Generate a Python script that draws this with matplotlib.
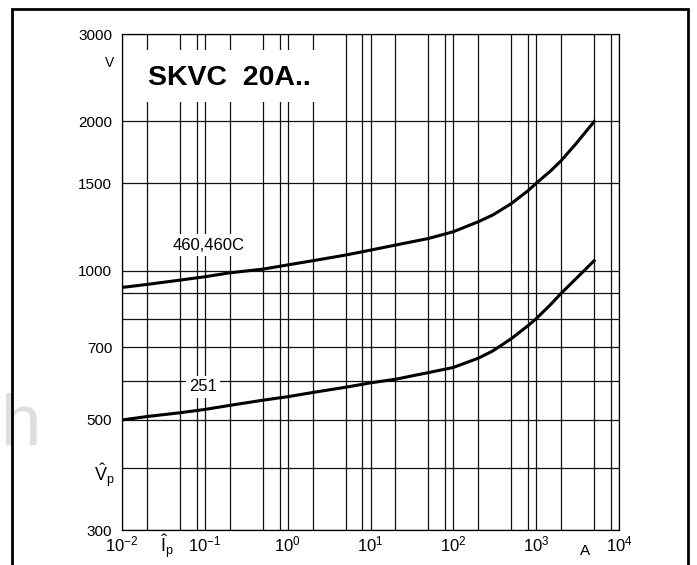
import matplotlib
matplotlib.use('Agg')
import matplotlib.pyplot as plt
from matplotlib.patches import Rectangle
from matplotlib.ticker import NullFormatter

plt.rcParams['font.family'] = ['Liberation Sans', 'DejaVu Sans']
plt.rcParams['mathtext.fontset'] = 'custom'
plt.rcParams['mathtext.rm'] = 'Liberation Sans'
plt.rcParams['mathtext.it'] = 'Liberation Sans:italic'
plt.rcParams['mathtext.bf'] = 'Liberation Sans:bold'

# peak current (A) vs peak voltage (V)
i_460 = [0.01, 0.02, 0.05, 0.1, 0.2, 0.5, 1, 2, 5, 10, 20, 50, 100, 200, 300, 500,
         800, 1000, 1500, 2000, 3000, 5000]
v_460 = [925, 938, 957, 972, 990, 1007, 1027, 1047, 1075, 1100, 1126, 1161, 1198, 1255,
         1295, 1365, 1450, 1500, 1590, 1666, 1800, 1997]
i_251 = [0.01, 0.02, 0.05, 0.1, 0.2, 0.5, 1, 2, 5, 10, 20, 50, 100, 200, 300, 500,
         800, 1000, 1500, 2000, 3000, 5000]
v_251 = [500, 508, 517, 525, 535, 548, 557, 568, 582, 594, 604, 623, 638, 666, 689, 729,
         775, 800, 855, 900, 962, 1047]

y_ticks = [300, 500, 700, 1000, 1500, 2000, 3000]
y_grid = [400, 600, 800, 900]
x_decades = [-2, -1, 0, 1, 2, 3, 4]
x_steps = [2, 5, 8]

W, H = 697, 565


def fx(px):
    return px / W


def fy(py):
    return 1 - py / H


fig = plt.figure(figsize=(W / 100, H / 100), dpi=100)
ax = fig.add_axes([fx(122), fy(530), (619 - 122) / W, (530 - 34) / H])

ax.set_xscale('log')
ax.set_yscale('log')
ax.set_xlim(1e-2, 1e4)
ax.set_ylim(300, 3000)

ax.set_xticks([10.0 ** d for d in x_decades])
ax.set_xticklabels([r'$\mathregular{10^{%d}}$' % d for d in x_decades])
ax.set_xticks([s * 10.0 ** d for d in x_decades[:-1] for s in x_steps], minor=True)
ax.xaxis.set_minor_formatter(NullFormatter())

ax.set_yticks(y_ticks)
ax.set_yticklabels([str(v) for v in y_ticks])
ax.set_yticks(y_grid, minor=True)
ax.yaxis.set_minor_formatter(NullFormatter())

ax.set_axisbelow(True)
ax.grid(True, which='both', color='#111111', lw=0.9)
ax.tick_params(which='both', length=0)
ax.tick_params(axis='y', pad=7, labelsize=11)
ax.tick_params(axis='x', pad=3, labelsize=12)
for s in ax.spines.values():
    s.set_linewidth(0.9)

ax.plot(i_460, v_460, color='k', lw=2.2, zorder=3)
ax.plot(i_251, v_251, color='k', lw=2.2, zorder=3)

lbl = dict(ha='center', va='center', fontsize=12, zorder=4,
           bbox=dict(facecolor='white', edgecolor='none', pad=2.5))
ax.text(0.11, 1124, '460,460C', **lbl)
ax.text(0.095, 583, '251', **lbl)

# white box behind the type designation
fig.add_artist(Rectangle((fx(131), fy(102)), (340 - 131) / W, (102 - 50) / H,
                         transform=fig.transFigure, facecolor='white',
                         edgecolor='none', zorder=1))
fig.text(fx(229), fy(78), 'SKVC  20A..', fontsize=20.5, fontweight='bold',
         ha='center', va='center', zorder=2)

fig.text(fx(110), fy(63), 'V', fontsize=10, ha='center', va='center')
fig.text(fx(104), fy(475), r'$\hat{\mathrm{V}}_\mathrm{p}$', fontsize=13,
         ha='center', va='center')
fig.text(fx(167), fy(546), r'$\hat{\mathrm{I}}_\mathrm{p}$', fontsize=13,
         ha='center', va='center')
fig.text(fx(585), fy(551), 'A', fontsize=11, ha='center', va='center')

# faint watermark letter at the left edge
fig.text(fx(0.5), fy(445), 'h', fontsize=52, color='#dedede', ha='left',
         va='baseline', family=['Liberation Sans Narrow', 'Liberation Sans'],
         zorder=0)

# page frame
fig.add_artist(Rectangle((fx(12), fy(H + 20)), (688 - 12) / W, (H + 20 - 9) / H,
                         transform=fig.transFigure, fill=False,
                         edgecolor='k', lw=2, zorder=5))

fig.savefig('out.png', dpi=100)
